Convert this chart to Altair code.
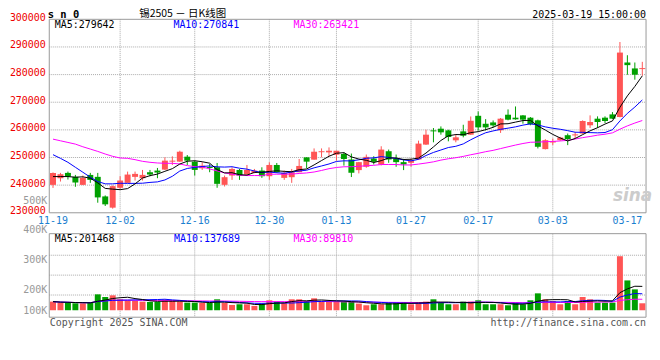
import altair as alt
import numpy as np
import pandas as pd

# ---------------- data ----------------
dates = ["11-19","11-20","11-21","11-22","11-25","11-26","11-27","11-28","11-29",
         "12-02","12-03","12-04","12-05","12-06","12-09","12-10","12-11","12-12","12-13",
         "12-16","12-17","12-18","12-19","12-20","12-23","12-24","12-25","12-26","12-27",
         "12-30","12-31","01-02","01-03","01-06","01-07","01-08","01-09","01-10",
         "01-13","01-14","01-15","01-16","01-17","01-20","01-21","01-22","01-23","01-24",
         "01-27","02-05","02-06","02-07","02-10","02-11","02-12","02-13","02-14",
         "02-17","02-18","02-19","02-20","02-21","02-24","02-25","02-26","02-27","02-28",
         "03-03","03-04","03-05","03-06","03-07","03-10","03-11","03-12","03-13","03-14",
         "03-17","03-18","03-19"]

opens = [240100,242500,244430,243000,240100,243700,243000,235920,231850,239040,
         240830,242990,242510,244670,245270,245620,248500,248500,250300,248500,
         246100,246580,246460,240110,243470,245500,243830,244430,245270,243230,
         247300,242630,242870,244670,250060,249220,251910,251850,251020,251260,
         249280,245440,246640,249630,247480,252270,249630,248320,248080,249280,
         254670,259820,260420,259820,256220,259460,258260,265090,262210,262690,
         259860,265480,264410,265240,264410,263450,253040,255430,256270,258070,
         258000,258670,261660,264050,264410,265600,264650,284380,282230,281990]
closes = [244400,243950,243100,240950,242630,241900,235560,233050,239630,241670,
          243830,244070,243710,243830,244550,248860,248860,252090,248860,245500,
          247060,246220,240470,242870,245860,243470,245500,245270,243230,247300,
          244670,244430,244670,246940,248500,252090,252270,252450,252450,249460,
          244480,248320,250230,248440,252870,249280,248320,247480,248920,255030,
          258260,259460,259100,257420,257300,257900,263290,260900,260900,261610,
          264050,263690,263810,263690,262010,253880,256270,255910,257230,256630,
          258360,263210,262850,262850,263210,264050,287970,283420,279950,282350]
highs = [244600,244430,244900,243700,243470,244430,244430,236280,239870,243230,
         244900,244900,245500,245500,246220,250060,250420,252450,250900,248860,
         248260,247660,248020,243470,246460,245860,247300,245860,246460,248260,
         248020,245270,245860,249460,250060,253290,253290,253650,252450,251850,
         251430,248400,251070,250470,254070,252870,251070,249510,249630,256100,
         260060,260660,261250,260060,258500,261850,264850,266650,263890,263410,
         264290,267400,268470,265360,264650,263690,256630,256870,257470,258670,
         259260,263450,265240,264880,264880,266440,291790,287010,284380,284620]
lows = [239000,241300,242030,239400,240000,240830,233640,232450,231490,238680,
        240830,241670,241670,243230,242510,245500,247300,248400,247300,243470,
        245500,244670,239040,239510,241910,241910,243830,244300,242630,241910,
        244430,241910,240830,244670,246100,249220,250060,250420,248860,247060,
        242930,244240,246280,247480,247120,248080,246640,245440,246640,249160,
        254550,255500,258260,255860,255500,257300,258140,259700,259820,260900,
        258900,263450,263690,262250,261660,253280,252920,254480,256030,254480,
        256870,258550,260700,260700,262490,263930,264530,279950,278160,279600]
volumes = [72800,64400,64400,58800,58800,64400,134400,112000,126000,92400,
           84000,78400,72800,70000,70000,89600,78400,72800,64400,64400,
           61600,61600,92400,61600,44800,50400,50400,36400,56000,84000,
           72800,61600,92400,92400,78400,100800,70000,72800,72800,72800,
           72800,56000,42000,50400,50400,64400,64400,64400,50400,64400,
           72800,92400,64400,50400,50400,72800,72800,84000,50400,50400,
           50400,42000,64400,50400,84000,142800,92400,78400,50400,78400,
           50400,112000,92400,64400,64400,64400,456400,252000,176400,58800]

# moving-average values at the left edge (they depend on days before the window)
ma5_head = [243100,243100,243100,242870]
ma10_head = [251020,249700,248260,246460,244670,242870,241310,240470,240470]
ma30_head = [256650,256050,255450,254850,253890,253050,252210,251260,250420,249820,
             249700,249220,248620,248260,248020,247900,247900,247660,247060,246700,
             246580,245860,245150,244430,243950,243590,243470,243470,243470]

label_dates = ["11-19","12-02","12-16","12-30","01-13","01-27","02-17","03-03","03-17"]
grid_dates = ["12-02","12-16","12-30","01-13","01-27","02-17","03-03"]
price_ticks = [230000,240000,250000,260000,270000,280000,290000,300000]
price_grid = [240000,250000,260000,270000,280000,290000]
price_ma_last = [279642, 270841, 263421]
vol_ma_last = [201468, 137689, 89810]
vol_label_texts = ["100K","200K","300K","400K","500K"]
vol_label_at = [0, 176000, 428500, 680600, 930200]
vol_grid = [464706, 296639, 128571]

title_text = "锡2505 － 日K线图"
code_text = "s n 0"
time_text = "2025-03-19 15:00:00"
copy_text = "Copyright 2025 SINA.COM"
url_text = "http://finance.sina.com.cn"

# ---------------- styling ----------------
RED = "#ff5555"
GREEN = "#00a000"
PRED = "#ee0000"
XLAB = "#1a80d0"
GRID = "#aaaaaa"
BORDER = "#999999"
VOLLAB = "#999999"
MONO = "DejaVu Sans Mono"
W, H = 600, 299.5
PRICE_TOP, PRICE_BOT = 300000, 230000
PRICE_DOMAIN = [192212, 300000]
VOL_TOP, VOL_BOT = 647059, -58824
VOL_DOMAIN = [-58824, 2457983]

df = pd.DataFrame({"d": dates, "open": opens, "close": closes, "high": highs,
                   "low": lows, "vol": volumes})
df["dir"] = np.where(df["close"] >= df["open"], "up", "down")
df["zero"] = 0


def moving(values, n, head):
    s = pd.Series(values, dtype=float).rolling(n).mean()
    s.iloc[:len(head)] = head
    return s


df["ma5"] = moving(closes, 5, ma5_head)
df["ma10"] = moving(closes, 10, ma10_head)
df["ma30"] = moving(closes, 30, ma30_head)
vs = pd.Series(volumes, dtype=float)
df["vma5"] = vs.rolling(5, min_periods=1).mean()
df["vma10"] = vs.rolling(10, min_periods=1).mean()
df["vma30"] = vs.rolling(30, min_periods=1).mean()

xscale = alt.Scale(domain=dates, paddingInner=0.2, paddingOuter=0.1)
xaxis = alt.Axis(values=label_dates, orient="bottom", offset=-105, labelAngle=0,
                 labelColor=XLAB, labelFont=MONO, labelFontSize=10, labelPadding=3,
                 ticks=False, tickSize=0, domain=False, grid=False,
                 labelOverlap=False, title=None)


def X():
    return alt.X("d:O", scale=xscale, axis=xaxis)


pscale = alt.Scale(domain=PRICE_DOMAIN, zero=False, nice=False)
paxis = alt.Axis(values=price_ticks, orient="left", format="d", labelColor=PRED,
                 labelFont=MONO, labelFontSize=10, labelPadding=4, labelOffset=-2,
                 ticks=False, tickSize=0, domain=False, grid=False,
                 labelOverlap=False, title=None)


def PY(f):
    return alt.Y(f, scale=pscale, axis=paxis)


expr = "''"
for i in range(len(vol_label_at) - 1, -1, -1):
    if i == len(vol_label_at) - 1:
        expr = "'%s'" % vol_label_texts[i]
    else:
        cut = (vol_label_at[i] + vol_label_at[i + 1]) / 2
        expr = "datum.value < %d ? '%s' : (%s)" % (cut, vol_label_texts[i], expr)

vscale = alt.Scale(domain=VOL_DOMAIN, zero=False, nice=False)
vaxis = alt.Axis(values=vol_label_at, orient="left", labelExpr=expr, labelColor=VOLLAB,
                 labelFont=MONO, labelFontSize=10, labelPadding=2.5,
                 ticks=False, tickSize=0, domain=False, grid=False,
                 labelOverlap=False, title=None)


def VY(f):
    return alt.Y(f, scale=vscale, axis=vaxis)


color = alt.Color("dir:N", scale=alt.Scale(domain=["up", "down"], range=[RED, GREEN]),
                  legend=None)

# ---------------- price panel ----------------
pg_h = alt.Chart(pd.DataFrame({"p": price_grid})).mark_rule(
    color=GRID, strokeDash=[1, 1], strokeWidth=1).encode(
    x=alt.value(0), x2=alt.value(W), y=PY("p:Q"))
pg_v = alt.Chart(pd.DataFrame({"d": grid_dates, "top": PRICE_TOP, "bot": PRICE_BOT})).mark_rule(
    color=GRID, strokeDash=[1, 1], strokeWidth=1).encode(
    x=X(), y=PY("top:Q"), y2="bot:Q")
p_border = alt.Chart(pd.DataFrame({"top": [PRICE_TOP], "bot": [PRICE_BOT]})).mark_rect(
    fillOpacity=0, stroke=BORDER, strokeWidth=1).encode(
    x=alt.value(0), x2=alt.value(W), y=PY("top:Q"), y2="bot:Q")
wick = alt.Chart(df).mark_rule(strokeWidth=1).encode(
    x=X(), y=PY("low:Q"), y2="high:Q", color=color)
body = alt.Chart(df).mark_bar().encode(
    x=X(), y=PY("open:Q"), y2="close:Q", color=color)
l5 = alt.Chart(df).mark_line(color="#000000", strokeWidth=1).encode(x=X(), y=PY("ma5:Q"))
l10 = alt.Chart(df).mark_line(color="#0000ff", strokeWidth=1).encode(x=X(), y=PY("ma10:Q"))
l30 = alt.Chart(df).mark_line(color="#ff00ff", strokeWidth=1).encode(x=X(), y=PY("ma30:Q"))
price = alt.layer(pg_h, pg_v, p_border, wick, body, l30, l10, l5)

# ---------------- volume panel ----------------
vg_h = alt.Chart(pd.DataFrame({"v": vol_grid})).mark_rule(
    color=GRID, strokeDash=[1, 1], strokeWidth=1).encode(
    x=alt.value(0), x2=alt.value(W), y=VY("v:Q"))
vg_v = alt.Chart(pd.DataFrame({"d": grid_dates, "top": VOL_TOP, "bot": VOL_BOT})).mark_rule(
    color=GRID, strokeDash=[1, 1], strokeWidth=1).encode(
    x=X(), y=VY("top:Q"), y2="bot:Q")
v_border = alt.Chart(pd.DataFrame({"top": [VOL_TOP], "bot": [VOL_BOT]})).mark_rect(
    fillOpacity=0, stroke=BORDER, strokeWidth=1).encode(
    x=alt.value(0), x2=alt.value(W), y=VY("top:Q"), y2="bot:Q")
vbar = alt.Chart(df).mark_bar().encode(x=X(), y=VY("vol:Q"), y2="zero:Q", color=color)
vl5 = alt.Chart(df).mark_line(color="#000000", strokeWidth=1).encode(x=X(), y=VY("vma5:Q"))
vl10 = alt.Chart(df).mark_line(color="#0000ff", strokeWidth=1).encode(x=X(), y=VY("vma10:Q"))
vl30 = alt.Chart(df).mark_line(color="#ff00ff", strokeWidth=1).encode(x=X(), y=VY("vma30:Q"))
volume = alt.layer(vg_h, vg_v, v_border, vbar, vl30, vl10, vl5)


# ---------------- texts ----------------
def txt(s, x, y, col, align="left", size=10, font=MONO, weight="normal", style="normal"):
    return alt.Chart(pd.DataFrame({"t": [s]})).mark_text(
        align=align, baseline="middle", font=font, fontSize=size,
        fontWeight=weight, fontStyle=style, color=col).encode(
        x=alt.value(x), y=alt.value(y), text="t:N")


texts = [
    txt(code_text, -1.5, -4.5, "#000000", size=10.5, weight="bold"),
    txt(title_text, 90.5, -5, "#000000", size=10.5, font="Noto Sans CJK SC"),
    txt(time_text, 600, -4.5, "#000000", align="right"),
    txt("MA5:%d" % price_ma_last[0], 5.5, 5.5, "#000000"),
    txt("MA10:%d" % price_ma_last[1], 124.8, 5.5, "#0000ff"),
    txt("MA30:%d" % price_ma_last[2], 245.5, 5.5, "#ff00ff"),
    txt("MA5:%d" % vol_ma_last[0], 5.5, 220.5, "#000000"),
    txt("MA10:%d" % vol_ma_last[1], 125.5, 220.5, "#0000ff"),
    txt("MA30:%d" % vol_ma_last[2], 245.5, 220.5, "#ff00ff"),
    txt(copy_text, 0.5, 305, "#555555"),
    txt(url_text, 600, 305, "#555555", align="right"),
    txt("sina", 586.5, 178, "#cccccc", align="center", size=17,
        font="DejaVu Sans", weight="bold", style="italic"),
]

chart = alt.layer(price, volume, *texts).resolve_scale(y="independent").properties(
    width=W, height=H,
    autosize=alt.AutoSizeParams(type="none"),
    padding={"left": 41.5, "top": 10.5, "right": 6, "bottom": 16},
    background="#ffffff",
).configure_view(strokeWidth=0)

chart.save("out.html", embed_options={"renderer": "svg", "actions": False})
